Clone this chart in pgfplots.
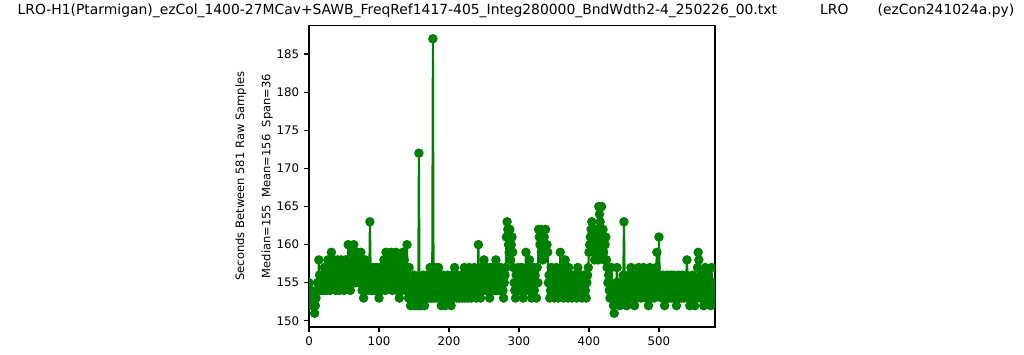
\documentclass[border=0pt]{standalone}
\usepackage{fontspec}
\setmainfont{DejaVu Sans}
\usepackage{pgfplots}
\usepackage{pgfplotstable}
\pgfplotsset{compat=1.18}
\definecolor{mplgreen}{RGB}{0,128,0}
\pgfplotstableread[row sep=\\]{v\\
155\\154\\153\\154\\153\\152\\153\\152\\151\\152\\153\\154\\155\\154\\158\\156\\155\\154\\154\\156\\
155\\154\\157\\156\\155\\154\\156\\158\\155\\157\\154\\156\\159\\157\\155\\156\\158\\155\\154\\157\\
156\\158\\155\\154\\157\\156\\158\\155\\156\\157\\154\\156\\158\\157\\155\\156\\160\\157\\155\\154\\
157\\159\\156\\158\\160\\156\\155\\157\\159\\156\\158\\155\\157\\156\\159\\155\\154\\156\\153\\157\\
158\\156\\155\\157\\154\\156\\155\\163\\157\\154\\156\\155\\157\\154\\155\\156\\154\\157\\155\\156\\
153\\155\\157\\154\\156\\155\\157\\158\\155\\154\\159\\156\\157\\155\\158\\156\\157\\159\\155\\154\\
156\\158\\157\\155\\159\\156\\154\\157\\158\\153\\155\\157\\154\\156\\159\\155\\158\\157\\154\\156\\
160\\155\\153\\157\\154\\152\\153\\155\\154\\152\\156\\153\\152\\155\\154\\152\\153\\172\\152\\153\\
152\\154\\155\\156\\153\\152\\155\\154\\153\\156\\155\\154\\153\\157\\154\\153\\155\\187\\153\\155\\
157\\154\\153\\156\\155\\157\\154\\153\\155\\152\\154\\156\\153\\155\\152\\154\\153\\155\\156\\154\\
153\\155\\154\\152\\156\\155\\153\\154\\157\\155\\154\\153\\156\\154\\155\\153\\154\\156\\155\\153\\
155\\154\\157\\153\\155\\156\\154\\153\\155\\157\\154\\156\\153\\155\\154\\156\\157\\155\\154\\153\\
155\\156\\160\\154\\155\\153\\157\\154\\156\\155\\158\\154\\156\\155\\157\\154\\155\\156\\153\\157\\
154\\156\\155\\157\\155\\154\\156\\158\\155\\154\\157\\155\\156\\154\\157\\155\\156\\154\\153\\155\\
156\\157\\161\\163\\162\\160\\159\\162\\158\\160\\161\\159\\157\\155\\154\\153\\156\\155\\154\\157\\
155\\156\\154\\155\\157\\156\\153\\155\\154\\156\\159\\155\\157\\154\\155\\158\\156\\154\\153\\156\\
155\\157\\154\\156\\155\\153\\157\\155\\162\\161\\160\\162\\159\\161\\158\\160\\161\\160\\162\\159\\
160\\159\\155\\156\\153\\154\\157\\155\\156\\154\\155\\153\\156\\157\\154\\155\\153\\156\\155\\159\\
156\\154\\155\\157\\153\\155\\158\\154\\156\\155\\153\\157\\155\\154\\156\\155\\153\\154\\156\\155\\
154\\156\\155\\153\\157\\155\\156\\154\\155\\156\\153\\155\\154\\156\\155\\154\\153\\155\\156\\157\\
159\\160\\161\\162\\163\\161\\160\\159\\158\\160\\162\\161\\159\\158\\165\\164\\163\\161\\165\\160\\
162\\159\\158\\160\\161\\158\\157\\155\\156\\154\\153\\155\\157\\154\\153\\152\\151\\154\\153\\155\\
157\\154\\153\\155\\152\\154\\153\\155\\154\\156\\163\\155\\153\\154\\152\\155\\154\\156\\153\\155\\
157\\154\\153\\156\\155\\152\\154\\156\\155\\153\\154\\157\\155\\154\\153\\156\\155\\154\\157\\155\\
154\\153\\156\\155\\154\\152\\155\\157\\154\\153\\155\\156\\154\\153\\155\\154\\157\\159\\155\\154\\
161\\156\\154\\155\\153\\154\\156\\155\\152\\154\\153\\155\\156\\154\\153\\155\\154\\156\\153\\155\\
154\\156\\155\\153\\154\\152\\155\\154\\156\\153\\155\\154\\153\\156\\155\\154\\153\\155\\154\\156\\
158\\155\\153\\154\\152\\155\\154\\153\\156\\155\\154\\152\\153\\155\\154\\157\\159\\158\\155\\153\\
154\\156\\155\\153\\152\\154\\157\\155\\153\\154\\156\\153\\155\\154\\152\\157\\155\\153\\154\\155\\
154\\
}\data

\begin{document}
\begin{tikzpicture}
\path[use as bounding box] (-222.5pt,-20.16pt) rectangle (514.8pt,235.44pt);
\begin{axis}[
  at={(0,0)}, anchor=south west,
  scale only axis, width=292.3pt, height=217.4pt,
  xmin=0, xmax=580, ymin=149.2, ymax=188.8,
  xtick={0,100,...,500}, ytick={150,155,...,185},
  tick align=outside, major tick length=3.5pt,
  tick style={black, line width=0.8pt},
  axis line style={line width=0.8pt},
  xtick pos=bottom, ytick pos=left,
  /pgf/number format/assume math mode=true,
  ticklabel style={font=\fontsize{8.5}{10}\selectfont},
  clip marker paths=true,
]
\addplot[mplgreen, line width=1.5pt, mark=*, mark size=3pt,
  mark options={fill=mplgreen, draw=mplgreen, line width=0.8pt}]
  table[x expr=\coordindex, y=v] {\data};
\end{axis}
\node[rotate=90, anchor=center, font=\fontsize{8.3}{10}\selectfont] at (-49pt,108.7pt) {Seconds Between 581 Raw Samples};
\node[rotate=90, anchor=center, font=\fontsize{8.3}{10}\selectfont] at (-30.2pt,108.7pt) {Median=155\ \ Mean=156\ \ Span=36};
\node[anchor=center, font=\fontsize{10}{12}\selectfont] at (149pt,227.5pt) {LRO-H1(Ptarmigan)\_ezCol\_1400-27MCav+SAWB\_FreqRef1417-405\_Integ280000\_BndWdth2-4\_250226\_00.txt\hspace{31pt}LRO\hspace{21pt}(ezCon241024a.py)};
\end{tikzpicture}
\end{document}
